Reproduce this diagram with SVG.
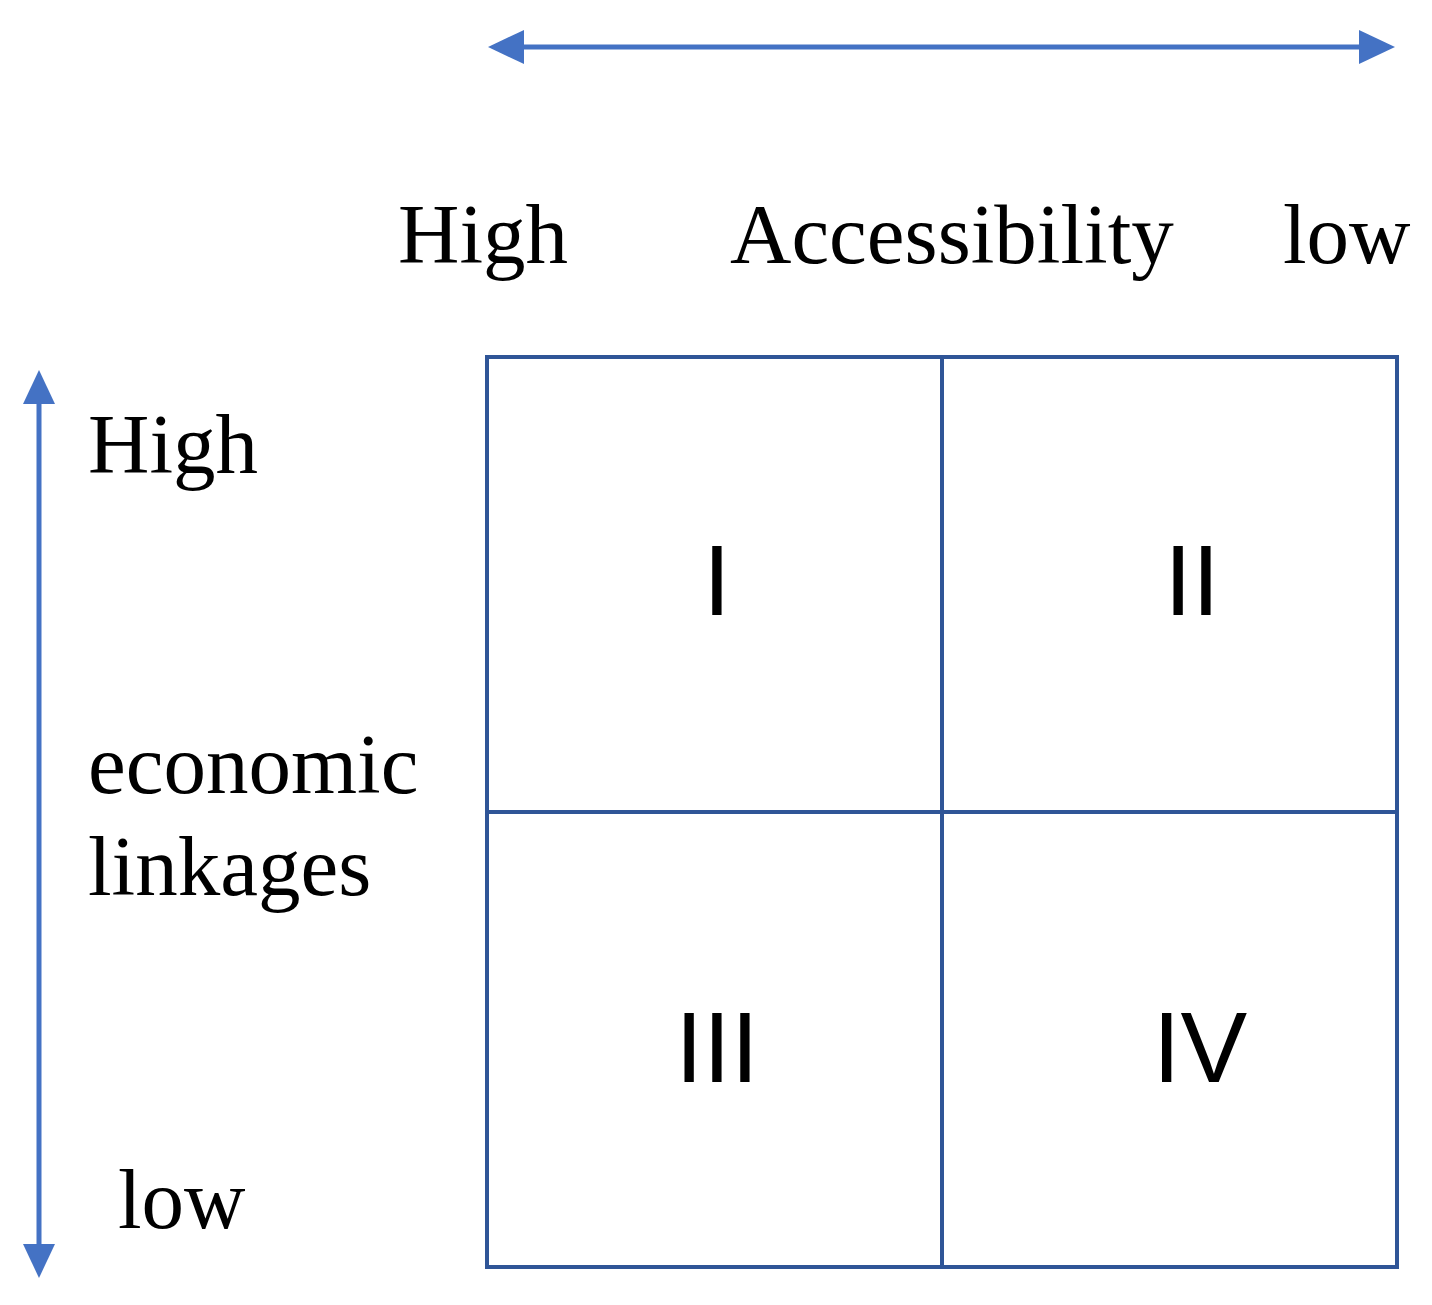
<svg xmlns="http://www.w3.org/2000/svg" width="1432" height="1305" viewBox="0 0 1432 1305">
<style>
.ser{font-family:"Liberation Serif",serif;font-size:85px;fill:#000}
.num{font-family:"Liberation Sans",sans-serif;font-size:100px;fill:#000;text-anchor:middle}
.grid{fill:none;stroke:#2F5597;stroke-width:4}
.ax{stroke:#4472C4;stroke-width:5;fill:none}
</style>
<rect width="1432" height="1305" fill="#fff"/>
<g id="connectors">
<line class="ax" x1="515" y1="47" x2="1370" y2="47"/>
<polygon points="488,47 524,30 524,64" fill="#4472C4"/>
<polygon points="1395,47 1359,30 1359,64" fill="#4472C4"/>
<line class="ax" x1="39" y1="395" x2="39" y2="1252"/>
<polygon points="39,370 23,404 55,404" fill="#4472C4"/>
<polygon points="39,1278 23,1244 55,1244" fill="#4472C4"/>
</g>
<g id="grid">
<rect class="grid" x="487" y="357" width="910" height="910"/>
<line class="grid" x1="942" y1="357" x2="942" y2="1267"/>
<line class="grid" x1="487" y1="812" x2="1397" y2="812"/>
</g>
<g id="labels">
<text class="ser" x="398" y="263">High</text>
<text class="ser" x="730" y="263">Accessibility</text>
<text class="ser" x="1283" y="263">low</text>
<text class="ser" x="88" y="473">High</text>
<text class="ser" x="88" y="793">economic</text>
<text class="ser" x="88" y="895">linkages</text>
<text class="ser" x="118" y="1228">low</text>
</g>
<g id="q1"><text class="num" x="717" y="615">I</text></g>
<g id="q2"><text class="num" x="1192" y="615">II</text></g>
<g id="q3"><text class="num" x="717" y="1082">III</text></g>
<g id="q4"><text class="num" x="1200" y="1082">IV</text></g>
</svg>
